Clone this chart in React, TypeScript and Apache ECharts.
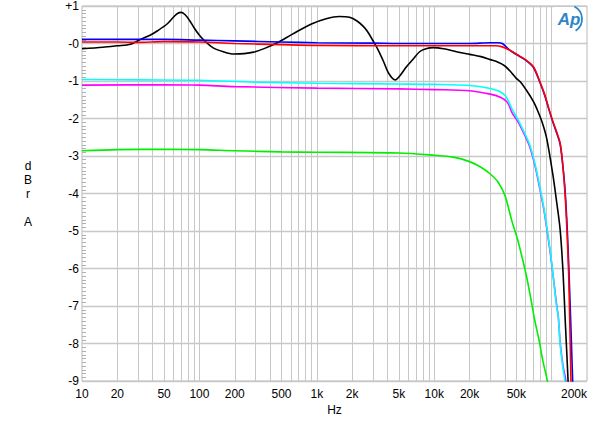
import React, { useEffect, useRef } from "react";
import * as echarts from "echarts";

// ---- data (frequency in Hz, level in dBr) ----
const blackF = [10, 15, 20, 26, 31, 38, 44, 53, 60, 65, 70, 76, 83, 90, 100, 110, 130, 160, 195, 240, 290, 360, 460, 620, 900, 1200, 1550, 1900, 2200, 2500, 2700, 3000, 3300, 3700, 4100, 4650, 5100, 5800, 6600, 7500, 8500, 9800, 12000, 16600, 20000, 25000, 30000, 35000, 40000, 45000, 50000, 54000, 62000, 70000, 75000, 83000, 91000, 103000, 110000, 118000, 125000, 131000, 138000, 141000];
const blackV = [-0.14, -0.1, -0.06, -0.02, 0.1, 0.22, 0.34, 0.52, 0.7, 0.8, 0.83, 0.76, 0.6, 0.42, 0.22, 0.08, -0.11, -0.22, -0.28, -0.27, -0.23, -0.13, 0.02, 0.25, 0.52, 0.66, 0.72, 0.7, 0.6, 0.45, 0.32, 0.08, -0.15, -0.48, -0.8, -0.97, -0.86, -0.62, -0.42, -0.22, -0.14, -0.11, -0.14, -0.24, -0.29, -0.35, -0.43, -0.5, -0.6, -0.76, -0.93, -1.02, -1.28, -1.55, -1.75, -2.1, -2.55, -3.55, -4.2, -4.95, -6.1, -7.5, -9.0, -10];

const blueF = [10, 20, 50, 100, 200, 500, 1000, 3000, 5000, 10000, 20000, 30000, 35000, 38000, 42000, 46000, 53000, 61000, 70000, 79000, 87000, 95000, 103000, 110000, 118000, 124000, 130000, 136000, 142000, 151000, 154000];
const blueV = [0.11, 0.11, 0.11, 0.09, 0.07, 0.04, 0.02, 0.01, 0.0, 0.0, 0.0, 0.02, 0.02, 0.0, -0.12, -0.22, -0.34, -0.46, -0.64, -1.02, -1.37, -1.77, -2.12, -2.37, -2.68, -3.2, -3.9, -5.0, -6.5, -9.0, -10];

const redF = [10, 20, 30, 50, 100, 200, 500, 1000, 5000, 20000, 33000, 38000, 44000, 53000, 61000, 70000, 79000, 87000, 95000, 103000, 110000, 118000, 124000, 130000, 135000, 140000, 146000, 148000];
const redV = [0.04, 0.04, 0.03, 0.05, 0.04, 0.0, -0.03, -0.05, -0.06, -0.06, -0.06, -0.09, -0.18, -0.33, -0.45, -0.62, -1.0, -1.35, -1.75, -2.1, -2.35, -2.65, -3.2, -4.0, -5.0, -6.3, -9.0, -10];

const cyanF = [10, 30, 100, 300, 1000, 5000, 10000, 20000, 30000, 36000, 40000, 43000, 46000, 52000, 58000, 65000, 72000, 79000, 86000, 91000, 97000, 103000, 109000, 114000, 118000, 124000, 129500, 132000];
const cyanV = [-0.96, -0.97, -0.98, -1.03, -1.06, -1.08, -1.09, -1.12, -1.2, -1.28, -1.38, -1.55, -1.75, -2.05, -2.35, -2.7, -3.2, -3.8, -4.4, -4.9, -5.5, -6.2, -6.9, -7.3, -8.0, -8.6, -9.0, -10];

const magentaF = [10, 50, 100, 200, 1000, 5000, 10000, 20000, 30000, 37000, 42000, 46000, 52000, 58000, 65000, 72000, 79000, 86000, 91000, 97000, 103000, 109000, 114000, 118000, 125000, 132000, 135000];
const magentaV = [-1.11, -1.1, -1.11, -1.15, -1.19, -1.21, -1.23, -1.26, -1.35, -1.44, -1.57, -1.85, -2.1, -2.4, -2.75, -3.25, -3.85, -4.45, -4.95, -5.55, -6.2, -6.85, -7.3, -7.95, -8.6, -9.0, -10];

const greenF = [10, 20, 50, 100, 200, 500, 1000, 5000, 10000, 14500, 20000, 25000, 30000, 35000, 40000, 46000, 51000, 56000, 61000, 66000, 72000, 78000, 84000, 92000, 95000];
const greenV = [-2.86, -2.83, -2.82, -2.83, -2.86, -2.89, -2.9, -2.92, -2.98, -3.03, -3.15, -3.3, -3.48, -3.7, -4.05, -4.75, -5.2, -5.7, -6.2, -6.75, -7.4, -7.9, -8.45, -9.0, -9.3];

// tick labels on the frequency axis
const xTickValues = [10, 20, 50, 100, 200, 500, 1000, 2000, 5000, 10000, 20000, 50000, 200000];
const xTickLabels = ["10", "20", "50", "100", "200", "500", "1k", "2k", "5k", "10k", "20k", "50k", "200k"];

// vertical grid lines (1-2-3...-9 per decade)
const gridFreqs: number[] = [];
for (let d = 10; d <= 100000; d *= 10) {
  for (let m = 1; m <= 9; m++) {
    const f = d * m;
    if (f > 10 && f < 200000) gridFreqs.push(f);
  }
}

const FONT = "Liberation Sans, Arial, sans-serif";

function pairs(f: number[], v: number[]) {
  return f.map((x, i) => [x, v[i]]);
}

export default function App() {
  const ref = useRef<HTMLDivElement>(null);
  useEffect(() => {
    if (!ref.current) return;
    const chart = echarts.init(ref.current, undefined, { renderer: "svg" });
    const mk = (name: string, f: number[], v: number[], color: string) => ({
      name,
      type: "line",
      data: pairs(f, v),
      showSymbol: false,
      symbol: "none",
      smooth: 0.3,
      clip: true,
      lineStyle: { color, width: 1.6 },
      z: 3,
    });
    const greenSeries: any = mk("green", greenF, greenV, "#00ee00");
    greenSeries.markLine = {
      silent: true,
      symbol: "none",
      z: 1,
      animation: false,
      label: { show: false },
      lineStyle: { color: "#c8c8c8", width: 1, type: "solid" },
      data: gridFreqs.map((f) => ({ xAxis: f })),
    };
    chart.setOption({
      animation: false,
      grid: {
        left: 82,
        right: 13,
        top: 5,
        bottom: 42,
        show: true,
        borderColor: "#b8b8b8",
        borderWidth: 1,
      },
      xAxis: {
        type: "log",
        logBase: 10,
        min: 10,
        max: 200000,
        name: "Hz",
        nameLocation: "middle",
        nameGap: 23,
        nameTextStyle: { fontFamily: FONT, fontSize: 12, color: "#000" },
        axisLine: { show: false },
        axisTick: { show: false },
        axisLabel: { show: false },
        splitLine: { show: false },
      },
      yAxis: {
        type: "value",
        min: -9,
        max: 1,
        interval: 1,
        axisLine: { show: false },
        axisTick: { show: false, inside: true, length: 4 },
        minorTick: {
          show: true,
          splitNumber: 10,
          length: 4,
          lineStyle: { color: "#b0b0b0", width: 1 },
        },
        axisLabel: {
          margin: 3,
          fontFamily: FONT,
          fontSize: 12,
          color: "#000",
          formatter: (v: number) => (v > 0 ? "+" + v : v === 0 ? "-0" : String(v)),
        },
        splitLine: { show: true, lineStyle: { color: "#c8c8c8", width: 1.3 } },
        minorSplitLine: { show: false },
      },
      series: [
        greenSeries,
        mk("magenta", magentaF, magentaV, "#ff00ff"),
        mk("cyan", cyanF, cyanV, "#00ffff"),
        mk("black", blackF, blackV, "#000000"),
        mk("blue", blueF, blueV, "#0000ff"),
        mk("red", redF, redV, "#ff0000"),
      ],
    });

    const yBottom = chart.convertToPixel({ yAxisIndex: 0 }, -9) as number;
    const xRight = chart.convertToPixel({ xAxisIndex: 0 }, 200000) as number;
    const yTop = chart.convertToPixel({ yAxisIndex: 0 }, 1) as number;
    const xLabels = xTickValues.map((f, i) => {
      const x = chart.convertToPixel({ xAxisIndex: 0 }, f) as number;
      const last = i === xTickValues.length - 1;
      return {
        type: "text",
        x: last ? xRight : x,
        y: yBottom + 7,
        silent: true,
        style: {
          text: xTickLabels[i],
          fontFamily: FONT,
          fontSize: 12,
          fill: "#000",
          align: last ? "right" : "center",
          verticalAlign: "top",
        },
      };
    });
    const yMid = chart.convertToPixel({ yAxisIndex: 0 }, -4) as number;
    chart.setOption({
      graphic: [
        ...xLabels,
        {
          type: "text",
          x: 28,
          y: yMid,
          silent: true,
          style: {
            text: "d\nB\nr\n\nA",
            fontFamily: FONT,
            fontSize: 12,
            lineHeight: 14,
            fill: "#000",
            align: "center",
            verticalAlign: "middle",
          },
        },
        {
          type: "group",
          x: xRight - 33,
          y: yTop + 1,
          silent: true,
          children: [
            { type: "rect", shape: { x: 0, y: 0, width: 32, height: 25 }, style: { fill: "#fff" } },
            {
              type: "text",
              x: 15,
              y: 12,
              style: {
                text: "Ap",
                fontFamily: FONT,
                fontSize: 17,
                fontStyle: "italic",
                fontWeight: "bold",
                fill: "#2f86c8",
                align: "center",
                verticalAlign: "middle",
              },
            },
            {
              type: "arc",
              shape: { cx: 14, cy: 12, r: 14, startAngle: -1.1, endAngle: 1.0 },
              style: { stroke: "#2f86c8", lineWidth: 1.8, fill: "none" },
            },
          ],
        },
      ],
    });
    return () => chart.dispose();
  }, []);
  return (
    <div
      ref={ref}
      style={{ position: "fixed", left: 0, top: 0, width: 600, height: 423, background: "#fff" }}
    />
  );
}
